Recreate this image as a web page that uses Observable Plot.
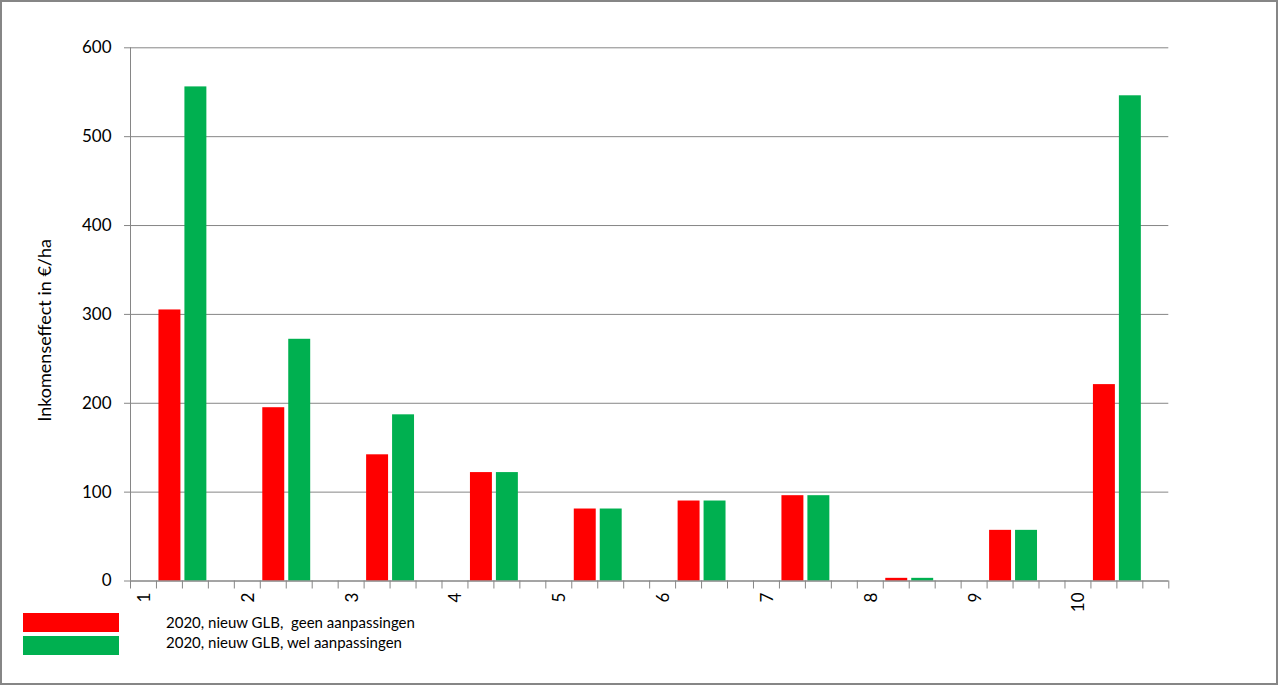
<!DOCTYPE html>
<html><head><meta charset="utf-8">
<script src="https://cdn.jsdelivr.net/npm/d3@7"></script>
<script src="https://cdn.jsdelivr.net/npm/@observablehq/plot@0.6"></script>
<style>
body{margin:0;background:#fff;}
#wrap{position:relative;width:1278px;height:685px;box-sizing:border-box;border:2px solid #868686;background:#fff;overflow:hidden;font-family:Lato,sans-serif;}
#chart svg{display:block;overflow:visible}
.sw{position:absolute;left:21px;width:96px;height:19px}
.lt{position:absolute;left:164px;font-size:15px;white-space:pre;color:#000;line-height:20px}
</style></head>
<body><div id="wrap"><div id="chart"></div><div id="legend"></div></div>
<script>
const categories = ["1","2","3","4","5","6","7","8","9","10"];
const seriesNames = ["2020, nieuw GLB,  geen aanpassingen", "2020, nieuw GLB, wel aanpassingen"];
const geenAanpassingen = [305, 195, 142, 122, 81, 90, 96, 3, 57, 221];
const welAanpassingen = [556, 272, 187, 122, 81, 90, 96, 3, 57, 546];
const yTicks = [0, 100, 200, 300, 400, 500, 600];
const colors = ["#FF0000", "#00B050"];
const yTitle = "Inkomenseffect in €/ha";

const slotsPerCategory = 4;
const nSlots = categories.length * slotsPerCategory;
const rows = [];
categories.forEach((c, i) => {
  rows.push({cat: c, slot: i * slotsPerCategory + 1, value: geenAanpassingen[i], series: seriesNames[0]});
  rows.push({cat: c, slot: i * slotsPerCategory + 2, value: welAanpassingen[i], series: seriesNames[1]});
});
const labelRows = categories.map((c, i) => ({cat: c, slot: i * slotsPerCategory}));
const grey = "#868686";

const chart = Plot.plot({
  width: 1274,
  height: 640,
  marginLeft: 128,
  marginRight: 107.7,
  marginTop: 45.3,
  marginBottom: 61.5,
  style: {fontFamily: "Lato, sans-serif", fontSize: "17px", color: "#000", background: "transparent"},
  x: {type: "linear", domain: [0, nSlots], axis: null},
  y: {domain: [0, 600], axis: null},
  color: {domain: seriesNames, range: colors},
  marks: [
    Plot.gridY(yTicks, {stroke: grey, strokeOpacity: 1, strokeWidth: 1}),
    Plot.rectY(rows, {x1: "slot", x2: d => d.slot + 1, y: "value", fill: "series", insetLeft: 2.5, insetRight: 1.5}),
    Plot.ruleX([0], {stroke: grey, strokeWidth: 1}),
    Plot.ruleY([0], {stroke: grey, strokeWidth: 1}),
    Plot.axisY(yTicks, {tickSize: 6, tickPadding: 13, stroke: grey, fill: "#000", fontSize: 17, label: null}),
    Plot.axisX(d3.range(nSlots + 1), {tickSize: 8, tickFormat: () => "", stroke: grey, label: null}),
    Plot.text(labelRows, {x: d => d.slot + 0.5, y: 0, text: "cat", rotate: -90, textAnchor: "end", dy: 11.5, dx: 1, fontSize: 17, fill: "#000"}),
    Plot.text([yTitle], {frameAnchor: "left", textAnchor: "middle", dx: -85, dy: 16, rotate: -90, fontSize: 18, fill: "#000"})
  ]
});
document.getElementById("chart").appendChild(chart);

const leg = document.getElementById("legend");
const swTops = [611, 634];
const txtTops = [609.5, 629.5];
seriesNames.forEach((s, i) => {
  const sw = document.createElement("div");
  sw.className = "sw"; sw.style.top = swTops[i] + "px"; sw.style.background = colors[i];
  leg.appendChild(sw);
  const t = document.createElement("div");
  t.className = "lt"; t.style.top = txtTops[i] + "px"; t.textContent = s;
  leg.appendChild(t);
});
</script>
</body></html>
